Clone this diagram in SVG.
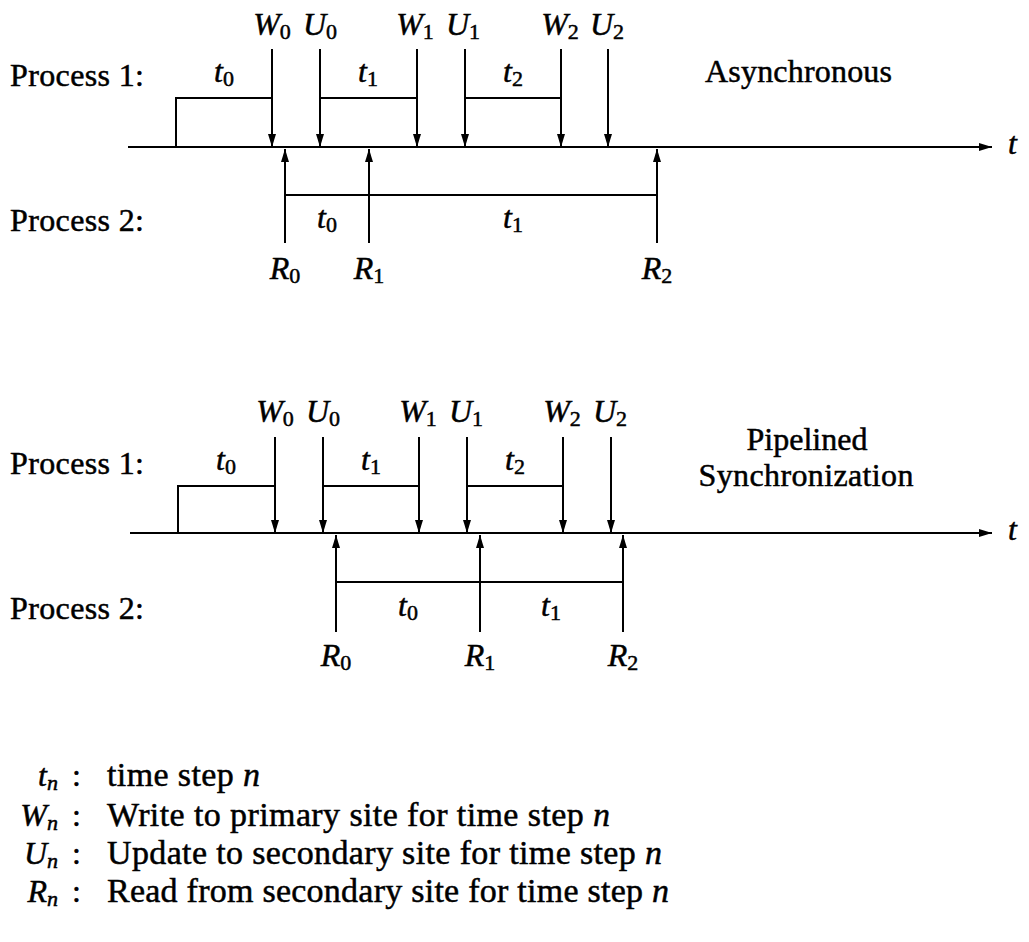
<svg xmlns="http://www.w3.org/2000/svg" width="1029" height="942" viewBox="0 0 1029 942">
<style>
text{font-family:"Liberation Serif","Times New Roman",serif;font-size:32px;fill:#000;stroke:#000;stroke-width:0.5}
.it{font-style:italic}
.sub{font-size:22px}
.mid{text-anchor:middle}
.end{text-anchor:end}
.ln{stroke:#000;stroke-width:2;fill:none}
.ax{stroke:#000;stroke-width:2.2;fill:none}
.lg{font-size:34px}
</style>
<defs>
<marker id="ah" markerUnits="userSpaceOnUse" markerWidth="13" markerHeight="10" viewBox="0 0 13 10" refX="13" refY="5" orient="auto">
<path d="M0,1 L13,5 L0,9 Z" fill="#000"/>
</marker>
</defs>

<g id="connectors">
<line class="ax" x1="128" y1="147" x2="992" y2="147" marker-end="url(#ah)"/>
<path class="ln" d="M176,147 V98 H272"/>
<line class="ln" x1="272" y1="49" x2="272" y2="147" marker-end="url(#ah)"/>
<line class="ln" x1="320" y1="49" x2="320" y2="147" marker-end="url(#ah)"/>
<line class="ln" x1="417" y1="49" x2="417" y2="147" marker-end="url(#ah)"/>
<line class="ln" x1="465" y1="49" x2="465" y2="147" marker-end="url(#ah)"/>
<line class="ln" x1="561" y1="49" x2="561" y2="147" marker-end="url(#ah)"/>
<line class="ln" x1="608" y1="49" x2="608" y2="147" marker-end="url(#ah)"/>
<line class="ln" x1="320" y1="98" x2="417" y2="98"/>
<line class="ln" x1="465" y1="98" x2="561" y2="98"/>
<line class="ln" x1="285" y1="243" x2="285" y2="149" marker-end="url(#ah)"/>
<line class="ln" x1="369" y1="243" x2="369" y2="149" marker-end="url(#ah)"/>
<line class="ln" x1="657" y1="243" x2="657" y2="149" marker-end="url(#ah)"/>
<line class="ln" x1="285" y1="195" x2="657" y2="195"/>
<line class="ax" x1="130" y1="533" x2="992" y2="533" marker-end="url(#ah)"/>
<path class="ln" d="M178,533 V486 H275"/>
<line class="ln" x1="275" y1="437" x2="275" y2="533" marker-end="url(#ah)"/>
<line class="ln" x1="323" y1="437" x2="323" y2="533" marker-end="url(#ah)"/>
<line class="ln" x1="419" y1="437" x2="419" y2="533" marker-end="url(#ah)"/>
<line class="ln" x1="467" y1="437" x2="467" y2="533" marker-end="url(#ah)"/>
<line class="ln" x1="563" y1="437" x2="563" y2="533" marker-end="url(#ah)"/>
<line class="ln" x1="611" y1="437" x2="611" y2="533" marker-end="url(#ah)"/>
<line class="ln" x1="323" y1="486" x2="419" y2="486"/>
<line class="ln" x1="467" y1="486" x2="563" y2="486"/>
<line class="ln" x1="336" y1="632" x2="336" y2="535" marker-end="url(#ah)"/>
<line class="ln" x1="480" y1="632" x2="480" y2="535" marker-end="url(#ah)"/>
<line class="ln" x1="623" y1="632" x2="623" y2="535" marker-end="url(#ah)"/>
<line class="ln" x1="336" y1="582" x2="623" y2="582"/>
</g>

<g id="top-diagram">
<text x="10" y="86" textLength="134">Process 1:</text>
<text x="10" y="231" textLength="134">Process 2:</text>
<text x="705" y="82" textLength="187">Asynchronous</text>
<text x="1008" y="154" class="it">t</text>
<text x="272" y="35" class="mid"><tspan class="it">W</tspan><tspan class="sub" dy="4">0</tspan></text>
<text x="320" y="35" class="mid"><tspan class="it">U</tspan><tspan class="sub" dy="4">0</tspan></text>
<text x="415" y="35" class="mid"><tspan class="it">W</tspan><tspan class="sub" dy="4">1</tspan></text>
<text x="463" y="35" class="mid"><tspan class="it">U</tspan><tspan class="sub" dy="4">1</tspan></text>
<text x="560" y="35" class="mid"><tspan class="it">W</tspan><tspan class="sub" dy="4">2</tspan></text>
<text x="607" y="35" class="mid"><tspan class="it">U</tspan><tspan class="sub" dy="4">2</tspan></text>
<text x="224" y="82" class="mid"><tspan class="it">t</tspan><tspan class="sub" dy="4">0</tspan></text>
<text x="368" y="82" class="mid"><tspan class="it">t</tspan><tspan class="sub" dy="4">1</tspan></text>
<text x="513" y="82" class="mid"><tspan class="it">t</tspan><tspan class="sub" dy="4">2</tspan></text>
<text x="327" y="228" class="mid"><tspan class="it">t</tspan><tspan class="sub" dy="4">0</tspan></text>
<text x="513" y="228" class="mid"><tspan class="it">t</tspan><tspan class="sub" dy="4">1</tspan></text>
<text x="285" y="279" class="mid"><tspan class="it">R</tspan><tspan class="sub" dy="4">0</tspan></text>
<text x="369" y="279" class="mid"><tspan class="it">R</tspan><tspan class="sub" dy="4">1</tspan></text>
<text x="657" y="279" class="mid"><tspan class="it">R</tspan><tspan class="sub" dy="4">2</tspan></text>
</g>

<g id="bottom-diagram">
<text x="10" y="474" textLength="134">Process 1:</text>
<text x="10" y="619" textLength="134">Process 2:</text>
<text x="807" y="450" class="mid">Pipelined</text>
<text x="806" y="486" class="mid" textLength="215">Synchronization</text>
<text x="1008" y="540" class="it">t</text>
<text x="275" y="422" class="mid"><tspan class="it">W</tspan><tspan class="sub" dy="4">0</tspan></text>
<text x="323" y="422" class="mid"><tspan class="it">U</tspan><tspan class="sub" dy="4">0</tspan></text>
<text x="418" y="422" class="mid"><tspan class="it">W</tspan><tspan class="sub" dy="4">1</tspan></text>
<text x="466" y="422" class="mid"><tspan class="it">U</tspan><tspan class="sub" dy="4">1</tspan></text>
<text x="562" y="422" class="mid"><tspan class="it">W</tspan><tspan class="sub" dy="4">2</tspan></text>
<text x="610" y="422" class="mid"><tspan class="it">U</tspan><tspan class="sub" dy="4">2</tspan></text>
<text x="226" y="470" class="mid"><tspan class="it">t</tspan><tspan class="sub" dy="4">0</tspan></text>
<text x="371" y="470" class="mid"><tspan class="it">t</tspan><tspan class="sub" dy="4">1</tspan></text>
<text x="515" y="470" class="mid"><tspan class="it">t</tspan><tspan class="sub" dy="4">2</tspan></text>
<text x="408" y="616" class="mid"><tspan class="it">t</tspan><tspan class="sub" dy="4">0</tspan></text>
<text x="551" y="616" class="mid"><tspan class="it">t</tspan><tspan class="sub" dy="4">1</tspan></text>
<text x="336" y="666" class="mid"><tspan class="it">R</tspan><tspan class="sub" dy="4">0</tspan></text>
<text x="480" y="666" class="mid"><tspan class="it">R</tspan><tspan class="sub" dy="4">1</tspan></text>
<text x="623" y="666" class="mid"><tspan class="it">R</tspan><tspan class="sub" dy="4">2</tspan></text>
</g>

<g id="legend">
<text x="58" y="786" class="end"><tspan class="it">t</tspan><tspan class="sub it" dy="4">n</tspan></text>
<text x="72" y="786">:</text>
<text x="107" y="786" class="lg" textLength="153">time step <tspan class="it">n</tspan></text>
<text x="58" y="826" class="end"><tspan class="it">W</tspan><tspan class="sub it" dy="4">n</tspan></text>
<text x="72" y="826">:</text>
<text x="107" y="826" class="lg" textLength="503">Write to primary site for time step <tspan class="it">n</tspan></text>
<text x="58" y="864" class="end"><tspan class="it">U</tspan><tspan class="sub it" dy="4">n</tspan></text>
<text x="72" y="864">:</text>
<text x="107" y="864" class="lg" textLength="555">Update to secondary site for time step <tspan class="it">n</tspan></text>
<text x="58" y="902" class="end"><tspan class="it">R</tspan><tspan class="sub it" dy="4">n</tspan></text>
<text x="72" y="902">:</text>
<text x="107" y="902" class="lg" textLength="562">Read from secondary site for time step <tspan class="it">n</tspan></text>
</g>
</svg>
